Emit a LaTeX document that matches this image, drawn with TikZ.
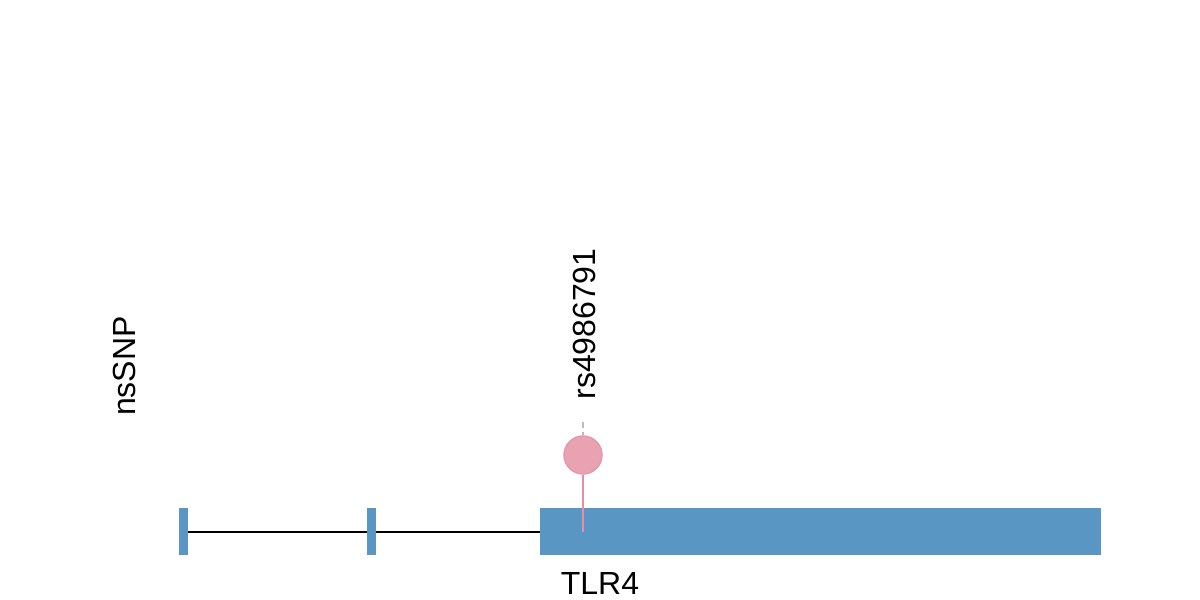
\documentclass[tikz,border=0pt]{standalone}
\usepackage{fontspec}
\setmainfont{Liberation Sans}
\definecolor{exonblue}{HTML}{5A96C3}
\definecolor{snpfill}{HTML}{E8A2B2}
\definecolor{snpedge}{HTML}{E496AA}
\definecolor{stemcol}{HTML}{E48FA7}
\definecolor{dashgray}{HTML}{BBBBBB}
\begin{document}
\begin{tikzpicture}[x=0.75pt,y=-0.75pt,
  exon/.style={fill=exonblue,draw=none,inner sep=0,outer sep=0,minimum height=35.25pt},
  lbl/.style={inner sep=0,outer sep=0,font=\fontsize{24pt}{26pt}\selectfont},
  snp/.style={circle,fill=snpfill,draw=snpedge,line width=0.8pt,inner sep=0,minimum size=28.5pt}]
\useasboundingbox (0,0) rectangle (1200,600);
% exons
\node[exon,minimum width=6.75pt,anchor=north west] (e1) at (179,508) {};
\node[exon,minimum width=6.75pt,anchor=north west] (e2) at (367,508) {};
\node[exon,minimum width=420.75pt,anchor=north west] (e3) at (540,508) {};
% introns
\draw[line width=1.5pt] (e1.east) -- (e2.west);
\draw[line width=1.5pt] (e2.east) -- (e3.west);
% SNP
\coordinate (base) at (583,532);
\node[snp] (s1) at (583,455) {};
\draw[stemcol,line width=1.5pt] (s1.south) -- (base);
\node[snp] at (s1) {};
\coordinate (dtop) at (583,422);
\draw[dashgray,line width=1.5pt,dash pattern=on 4.5pt off 3pt] (dtop) -- (s1.north);
% labels
\node[lbl,rotate=90] (rs) at (584,324) {rs4986791};
\node[lbl,rotate=90] (ns) at (124,366) {nsSNP};
\node[lbl] (tlr) at (600,583) {TLR4};
\end{tikzpicture}
\end{document}
